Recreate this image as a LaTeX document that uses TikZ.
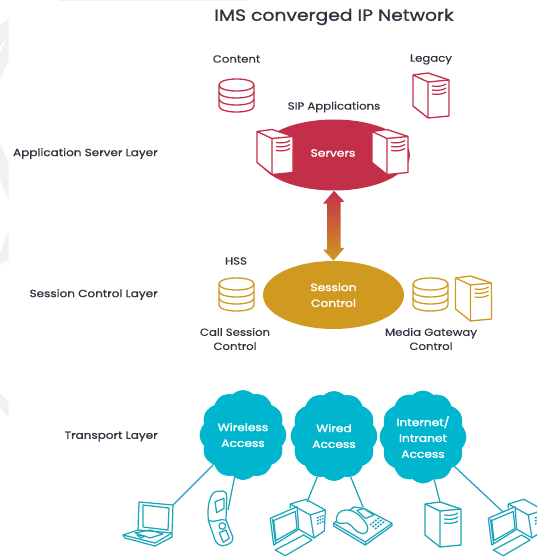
\documentclass[tikz,border=0pt]{standalone}
\usepackage{fontspec}
\setmainfont{Poppins}[FakeStretch=1.13,FakeBold=0.35]
\newfontfamily\layerfont{Poppins}[FakeStretch=1.16,FakeBold=1.1]
\newfontfamily\blobfont{Poppins}[FakeStretch=1.16,FakeBold=2]
\usetikzlibrary{shapes.geometric,shapes.symbols}
\definecolor{srvred}{HTML}{C32F49}
\definecolor{ctlgold}{HTML}{CF9A1F}
\definecolor{netcyan}{HTML}{00B6CE}
\definecolor{devteal}{HTML}{1CA5B8}
\definecolor{inkdark}{HTML}{30333F}
\definecolor{backgrey}{HTML}{F2F1EF}
\tikzset{
  every node/.style={inner sep=0pt,text=inkdark,font=\fontsize{5.9}{8}\selectfont,align=center},
  layerlabel/.style={anchor=east,font=\fontsize{5.9}{8}\selectfont\layerfont},
  blob/.style={ellipse,draw=none,fill=#1,text=white,font=\fontsize{6}{9}\selectfont\blobfont},
  access/.style={cloud,cloud puffs=12,cloud puff arc=90,aspect=1,fill=netcyan,draw=netcyan,
    text=white,minimum width=1.72cm,minimum height=1.78cm,font=\fontsize{6}{9}\selectfont\blobfont},
  link/.style={devteal,line width=0.7pt},
  pics/barrel/.style={code={
    \draw[#1,line width=0.75pt] (0,6) .. controls (0,-2) and (35,-2) .. (35,6)
      -- (35,27) .. controls (35,35) and (0,35) .. (0,27) -- cycle;
    \foreach \lvl in {6,13,20}
      \draw[#1,line width=0.75pt] (0,\lvl) .. controls (0,\lvl+8) and (35,\lvl+8) .. (35,\lvl);
  }},
  pics/tower/.style={code={
    \draw[#1,fill=white,line width=0.75pt,line join=round] (0,2) -- (15,0) -- (36,7) -- (36,43)
      -- (15,45) -- (0,33) -- cycle;
    \draw[#1,line width=0.75pt] (0,2) -- (15,9) -- (36,7) (15,9) -- (15,45);
    \foreach \lvl in {13,17,21}
      \draw[#1,line width=0.7pt] (19,\lvl) .. controls (25,\lvl+1) and (30,\lvl) .. (33,\lvl-2);
  }},
  pics/desktop/.style={code={
    \begin{scope}[devteal,line width=0.7pt,line join=round]
    \draw (28.3,14) -- (44,9.3) -- (63.3,20) -- (48.3,25) -- cycle;
    \draw (28.3,14) -- (28.3,18) (63.3,20) -- (62.3,41) -- (52,48) -- (37,39.3);
    \draw (48.3,25) -- (52,48);
    \foreach \lvl in {28,31,34}
      \draw[line width=0.9pt,dash pattern=on 1pt off 0.6pt] (55,\lvl) -- (61.5,\lvl-2.5);
    \draw[fill=white] (8.3,28.3) -- (35,16.7) -- (36.7,39.3) -- (11.7,55) -- cycle;
    \draw (10.5,29) -- (13.5,53) (11.7,30.5) -- (33.3,21.5) -- (35,38.5) -- (14,50.5) -- cycle;
    \draw (13.3,60) -- (41.7,45) -- (50,50) -- (23.3,65.7) -- cycle;
    \end{scope}
  }},
}
\begin{document}
\begin{tikzpicture}[x=0.02cm,y=-0.02cm]
\clip (0,0) rectangle (537,557);
\fill[white] (0,0) rectangle (537,557);
% faint marks of the page behind
\fill[backgrey] (60,0) rectangle (248,1.5);
\fill[backgrey] (0,25) -- (8.5,19) -- (8.5,60) -- (0,80) -- cycle;
\fill[backgrey] (0,143) -- (8.5,163) -- (8.5,200) -- (0,180) -- cycle;
\fill[backgrey] (0,253) -- (8.5,231) -- (8.5,260) -- (0,265) -- cycle;
\fill[backgrey] (0,393) -- (8.5,402) -- (8.5,417) -- (0,408) -- cycle;
\fill[white] (0,46) -- (7,38) -- (0,52) -- cycle;

\node (title) at (334,17) {\fontsize{9.2}{11}\selectfont\layerfont IMS converged IP Network};
\node[layerlabel] (appLayer) at (158,153.5) {Application Server Layer};
\node[layerlabel] (sessLayer) at (158,294.5) {Session Control Layer};
\node[layerlabel] (transLayer) at (158,436.5) {Transport Layer};

% application servers
\node (content) at (236.5,59) {Content};
\node (legacy) at (431,59.5) {Legacy};
\node (sip) at (334,107) {SIP Applications};
\pic at (219,79) {barrel=srvred};
\pic at (413,73) {tower=srvred};
\node[blob=srvred,minimum width=3.04cm,minimum height=1.42cm] (servers) at (334,155) {};
\node[text=white,font=\fontsize{6}{9}\selectfont\blobfont] (serverstxt) at (333,153) {Servers};
\pic at (257,129.5) {tower=srvred};
\pic at (372,129.5) {tower=srvred};

% session control
\node[blob=ctlgold,minimum width=2.82cm,minimum height=1.36cm] (session) at (333.5,295) {Session\\Control};
\node (hss) at (236,261) {HSS};
\node (callsess) at (235,339) {Call Session\\Control};
\node (mediagw) at (431,339) {Media Gateway\\Control};
\pic at (219,278) {barrel=ctlgold};
\pic at (413,278) {barrel=ctlgold};
\pic at (455.5,276) {tower=ctlgold};

% double arrow between the two ellipses
\path[top color=srvred,bottom color=ctlgold,draw=none] (servers.south) -- ++(10.5,11) -- ++(-4,0)
  -- ++(0,46) -- ++(4,0) -- (session.north) -- ++(-10.5,-11) -- ++(4,0) -- ++(0,-46) -- ++(-4,0) -- cycle;

% access clouds
\node[access] (wireless) at (243,435) {Wireless\\Access};
\node[access] (wired) at (334,436) {Wired\\Access};
\node[access,minimum height=1.84cm] (internet) at (423,437) {Internet/\\Intranet\\Access};

% laptop
\coordinate (laptopport) at (173,505);
\begin{scope}[devteal,line width=0.7pt,line join=round]
\draw (139,502) -- (173,505) -- (172,533) -- (138,530) -- cycle;
\draw (143,505) -- (169,508) -- (168,530) -- (143,527) -- cycle;
\draw (138,530) -- (123,535) -- (125,538) -- (155,546) -- (172,537) -- (172,533);
\draw (123,535) -- (155,543) -- (172,533);
\draw (135,533) -- (150,530) -- (163,534) -- (150,538) -- cycle;
\draw (137,535) -- (145,536) -- (141,538) -- cycle;
\end{scope}

% flip phone
\coordinate (phoneport) at (228,510);
\begin{scope}[devteal,line width=0.7pt,line join=round]
\draw (208.3,520) .. controls (207,505) and (210,495) .. (215,491.7) -- (223,491)
  .. controls (226,491) and (227,494) .. (226.7,497) -- (226,520);
\draw (208.3,520) -- (215,540) .. controls (217,544) and (220,546) .. (223,545.7)
  .. controls (229,545) and (234,542) .. (232.7,536.7) -- (226,520);
\draw (208.3,520) .. controls (213,524) and (220,518) .. (226,520);
\draw (215,501.7) -- (224,498.3) -- (224,508.3) -- (216.7,512.7) -- cycle;
\draw (222.3,526) circle (3.3);
\draw (219.3,532.7) -- (226,530) -- (229.3,538.3) -- (223.3,542.3) -- cycle;
\end{scope}

% desk telephone
\coordinate (telport) at (363,507);
\begin{scope}[shift={(262,490)},devteal,line width=0.7pt,line join=round]
\draw (71.7,33.3) -- (91.7,17) -- (101.7,18.3) -- (130,33.3) -- (103.3,52) -- cycle;
\draw (71.7,33.3) -- (71.7,36) -- (103.3,55) -- (130,35.7) -- (130,33.3);
\draw (103.3,52) -- (103.3,55);
\draw[fill=white] (75,32.5) .. controls (73,25) and (77,20) .. (85,20) .. controls (93,20) and (100,27) .. (105,35)
  .. controls (107,40) and (105,44) .. (100,43.5) .. controls (93,43) and (90,34) .. (85,33) .. controls (82,33) and (78,34) .. (75,32.5) -- cycle;
\draw (95,20.5) -- (101.7,18.5) -- (111.7,25) -- (103.5,28.5) -- cycle;
\foreach \lvl in {0,1,2}
  \draw[line width=0.9pt,dash pattern=on 1.1pt off 0.7pt] (108+\lvl*2.5,35+\lvl*2) -- (122+\lvl*2.5-4,27+\lvl*2);
\end{scope}

\pic at (262,490) {desktop};
\pic at (480,490) {desktop};
\coordinate (deskAport) at (307,502);
\coordinate (deskBport) at (503,512);
\pic at (425,502) {tower=devteal};
\coordinate (towerport) at (440,502);

% connectors
\draw[link] (wireless) -- (laptopport);
\draw[link] (wireless) -- (phoneport);
\draw[link] (wired) -- (deskAport);
\draw[link] (wired) -- (telport);
\draw[link] (internet) -- (towerport);
\draw[link] (internet) -- (deskBport);
\end{tikzpicture}
\end{document}
